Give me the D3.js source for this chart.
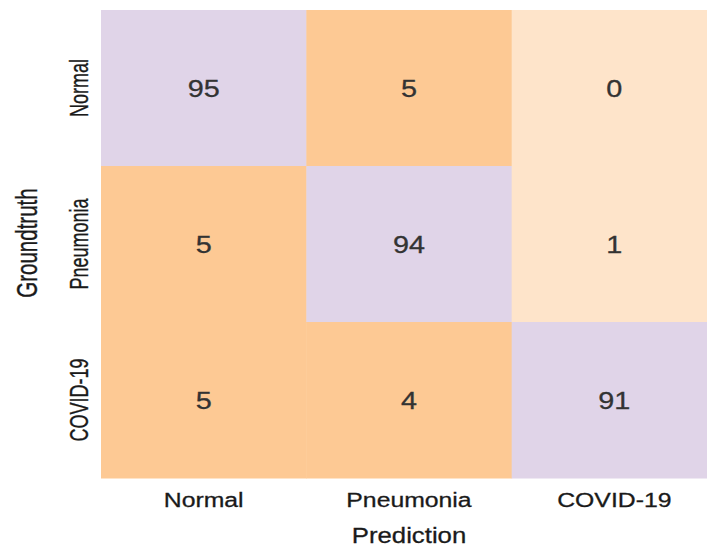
<!DOCTYPE html>
<html>
<head>
<meta charset="utf-8">
<script src="https://cdn.jsdelivr.net/npm/d3@7/dist/d3.min.js"></script>
<style>
  html, body { margin: 0; padding: 0; background: #fff; }
  svg { display: block; }
  text { font-family: "Liberation Sans", Arial, Helvetica, sans-serif; }
</style>
</head>
<body>
<svg id="chart" width="707" height="548"></svg>
<script>
const groundTruth = ["Normal", "Pneumonia", "COVID-19"];
const predictions = ["Normal", "Pneumonia", "COVID-19"];
const values = [
  [95, 5, 0],
  [5, 94, 1],
  [5, 4, 91]
];
const xTitle = "Prediction";
const yTitle = "Groundtruth";

const W = 707, H = 548;
const margin = { left: 101, top: 10, right: -10, bottom: 70 };
const svg = d3.select("#chart");

const x = d3.scaleBand().domain(predictions).range([margin.left, W - margin.right]);
const y = d3.scaleBand().domain(groundTruth).range([margin.top, H - margin.bottom]);
const color = d3.scaleThreshold().domain([3, 50]).range(["#fee4ca", "#fdc994", "#e0d4e8"]);

const cells = [];
groundTruth.forEach((g, i) => predictions.forEach((p, j) => cells.push({ g, p, v: values[i][j] })));

svg.append("g").selectAll("rect").data(cells).join("rect")
  .attr("x", d => x(d.p))
  .attr("y", d => y(d.g))
  .attr("width", x.bandwidth() + 0.5)
  .attr("height", y.bandwidth() + 0.5)
  .attr("fill", d => color(d.v));

svg.append("g").selectAll("text").data(cells).join("text")
  .attr("transform", d => `translate(${x(d.p) + x.bandwidth() / 2},${y(d.g) + y.bandwidth() / 2}) scale(1.2,1)`)
  .attr("dy", "0.36em")
  .attr("text-anchor", "middle")
  .attr("font-size", 24)
  .attr("fill", "#333")
  .attr("stroke", "#333")
  .attr("stroke-width", 0.3)
  .text(d => d.v);

// x tick labels
svg.append("g").selectAll("text").data(predictions).join("text")
  .attr("transform", d => `translate(${x(d) + x.bandwidth() / 2},507) scale(1.18,1)`)
  .attr("text-anchor", "middle")
  .attr("font-size", 21)
  .attr("fill", "#1a1a1a")
  .attr("stroke", "#1a1a1a")
  .attr("stroke-width", 0.3)
  .text(d => d);

// y tick labels
svg.append("g").selectAll("text").data(groundTruth).join("text")
  .attr("transform", d => `translate(88,${y(d) + y.bandwidth() / 2}) rotate(-90) scale(0.82,1.2)`)
  .attr("text-anchor", "middle")
  .attr("font-size", 22)
  .attr("fill", "#1a1a1a")
  .attr("stroke", "#1a1a1a")
  .attr("stroke-width", 0.3)
  .text(d => d);

// axis titles
svg.append("text")
  .attr("transform", `translate(${(margin.left + W - margin.right) / 2},543) scale(1.12,1)`)
  .attr("text-anchor", "middle")
  .attr("font-size", 23)
  .attr("fill", "#1a1a1a")
  .attr("stroke", "#1a1a1a")
  .attr("stroke-width", 0.3)
  .text(xTitle);

svg.append("text")
  .attr("transform", `translate(37,${(margin.top + H - margin.bottom) / 2 - 1}) rotate(-90) scale(0.82,1.2)`)
  .attr("text-anchor", "middle")
  .attr("font-size", 25)
  .attr("fill", "#1a1a1a")
  .attr("stroke", "#1a1a1a")
  .attr("stroke-width", 0.3)
  .text(yTitle);
</script>
</body>
</html>
